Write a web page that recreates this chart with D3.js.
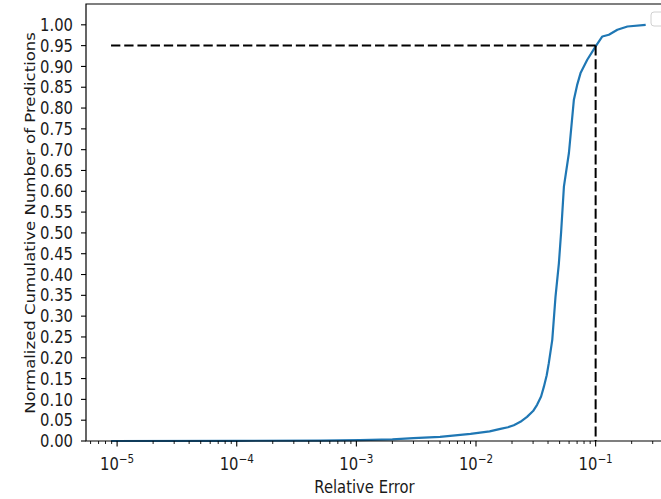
<!DOCTYPE html>
<html>
<head>
<meta charset="utf-8">
<script src="https://cdn.jsdelivr.net/npm/d3@7"></script>
<style>
  body { margin: 0; background: #fff; }
  text { font-family: "DejaVu Sans", sans-serif; fill: #1a1a1a; }
</style>
</head>
<body>
<div id="chart"></div>
<script>
// relative error (x) and normalized cumulative count (y)
var relErr  = [8.9e-6, 1e-4, 5e-4, 1.07e-3, 2e-3, 3e-3, 5e-3, 9e-3, 0.013, 0.016,
               0.0185, 0.0207, 0.0235, 0.0267, 0.030, 0.0324, 0.035, 0.0369, 0.039,
               0.0406, 0.0434, 0.0462, 0.0493, 0.0515, 0.0543, 0.0598, 0.0658, 0.070,
               0.0748, 0.0851, 0.100, 0.1138, 0.129, 0.152, 0.1845, 0.262];
var cumFrac = [0, 0.0005, 0.001, 0.002, 0.004, 0.007, 0.010, 0.017, 0.023, 0.029,
               0.033, 0.038, 0.046, 0.058, 0.072, 0.087, 0.107, 0.13, 0.158,
               0.187, 0.243, 0.347, 0.427, 0.503, 0.611, 0.692, 0.820, 0.855,
               0.884, 0.916, 0.948, 0.972, 0.976, 0.988, 0.996, 1.0];

var yTicks = d3.range(0, 21).map(function(i) { return i * 0.05; });
var xTicks = [1e-5, 1e-4, 1e-3, 1e-2, 1e-1];
var xExps  = ["\u22125", "\u22124", "\u22123", "\u22122", "\u22121"];

var threshX = 0.1;   // dashed guide: 10% error
var threshY = 0.95;  // dashed guide: 95% of predictions

var W = 661, H = 499;
var pLeft = 86, pRight = 671, pTop = 4, pBottom = 441;
var stretch = 1.15;  // the picture's text is a bit taller than wide

var svg = d3.select("#chart").append("svg")
    .attr("width", W)
    .attr("height", H);

var x = d3.scaleLog()
    .domain([Math.pow(10, -5.26), Math.pow(10, -0.37)])
    .range([pLeft, pRight]);

var y = d3.scaleLinear()
    .domain([0, 1.05])
    .range([pBottom, pTop]);

// minor ticks on the log axis
var minor = [];
for (var e = -6; e <= 0; e++) {
  for (var m = 2; m <= 9; m++) {
    var v = m * Math.pow(10, e);
    if (v > x.domain()[0] && v < x.domain()[1]) minor.push(v);
  }
}

var data = relErr.map(function(d, i) { return {x: d, y: cumFrac[i]}; });

// curve
svg.append("path")
  .datum(data)
  .attr("fill", "none")
  .attr("stroke", "#1f77b4")
  .attr("stroke-width", 2.2)
  .attr("stroke-linejoin", "round")
  .attr("d", d3.line()
    .x(function(d) { return x(d.x); })
    .y(function(d) { return y(d.y); }));

// dashed guides
svg.append("line")
  .attr("x1", x(relErr[0])).attr("x2", x(threshX))
  .attr("y1", y(threshY)).attr("y2", y(threshY))
  .attr("stroke", "#000").attr("stroke-width", 2)
  .attr("stroke-dasharray", "9.3,3.9");
svg.append("line")
  .attr("x1", x(threshX)).attr("x2", x(threshX))
  .attr("y1", y(threshY)).attr("y2", y(0))
  .attr("stroke", "#000").attr("stroke-width", 2)
  .attr("stroke-dasharray", "10,3.6");

// spines
svg.append("path")
  .attr("fill", "none")
  .attr("stroke", "#000")
  .attr("stroke-width", 1.2)
  .attr("d", "M" + pRight + "," + pBottom + "H" + pLeft + "V" + pTop + "H" + pRight);

// x ticks
svg.append("g").selectAll("line").data(minor).enter().append("line")
  .attr("x1", function(d) { return x(d); }).attr("x2", function(d) { return x(d); })
  .attr("y1", pBottom).attr("y2", pBottom + 3)
  .attr("stroke", "#000").attr("stroke-width", 0.9);
svg.append("g").selectAll("line").data(xTicks).enter().append("line")
  .attr("x1", function(d) { return x(d); }).attr("x2", function(d) { return x(d); })
  .attr("y1", pBottom).attr("y2", pBottom + 5.5)
  .attr("stroke", "#000").attr("stroke-width", 1.1);

var xl = svg.append("g").selectAll("text").data(xTicks).enter().append("text")
  .attr("transform", function(d) { return "translate(" + x(d) + "," + 470 + ") scale(1," + stretch + ")"; })
  .attr("text-anchor", "middle")
  .style("font-size", "14.8px");
xl.append("tspan").text("10");
xl.append("tspan")
  .attr("dy", -6)
  .style("font-size", "10.4px")
  .text(function(d, i) { return xExps[i]; });

// y ticks
svg.append("g").selectAll("line").data(yTicks).enter().append("line")
  .attr("x1", pLeft - 5).attr("x2", pLeft)
  .attr("y1", function(d) { return y(d); }).attr("y2", function(d) { return y(d); })
  .attr("stroke", "#000").attr("stroke-width", 1.1);
svg.append("g").selectAll("text").data(yTicks).enter().append("text")
  .attr("transform", function(d) { return "translate(" + (pLeft - 13) + "," + y(d) + ") scale(1," + stretch + ")"; })
  .attr("text-anchor", "end")
  .attr("dy", "0.36em")
  .style("font-size", "14.8px")
  .text(function(d) { return d.toFixed(2); });

// axis titles
svg.append("text")
  .attr("transform", "translate(" + ((pLeft + pRight) / 2 - 14) + ",493) scale(1," + stretch + ")")
  .attr("text-anchor", "middle")
  .style("font-size", "14.8px")
  .text("Relative Error");
svg.append("text")
  .attr("transform", "translate(35," + ((pTop + pBottom) / 2 + 0.5) + ") rotate(-90) scale(1.14,1)")
  .attr("text-anchor", "middle")
  .style("font-size", "14.5px")
  .text("Normalized Cumulative Number of Predictions");

// empty legend box in the corner
svg.append("rect")
  .attr("x", 651).attr("y", 12)
  .attr("width", 24).attr("height", 14)
  .attr("rx", 3)
  .attr("fill", "#fff")
  .attr("stroke", "#d0d0d0")
  .attr("stroke-width", 1);
</script>
</body>
</html>
